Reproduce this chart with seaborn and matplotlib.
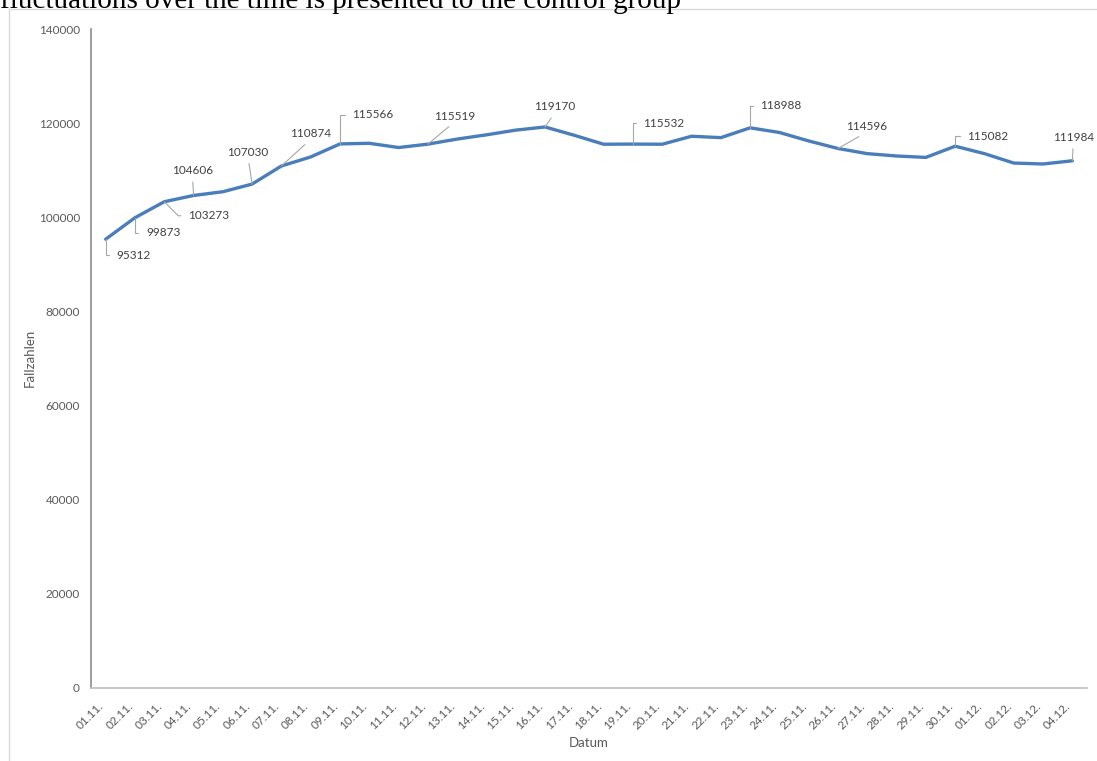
import matplotlib
matplotlib.use("Agg")
import matplotlib.pyplot as plt
import seaborn as sns
import pandas as pd
from matplotlib.patches import Rectangle

# ---------------- data ----------------
dates = ["01.11.", "02.11.", "03.11.", "04.11.", "05.11.", "06.11.", "07.11.", "08.11.",
         "09.11.", "10.11.", "11.11.", "12.11.", "13.11.", "14.11.", "15.11.", "16.11.",
         "17.11.", "18.11.", "19.11.", "20.11.", "21.11.", "22.11.", "23.11.", "24.11.",
         "25.11.", "26.11.", "27.11.", "28.11.", "29.11.", "30.11.", "01.12.", "02.12.",
         "03.12.", "04.12."]
cases = [95312, 99873, 103273, 104606, 105400, 107030, 110874, 112800,
         115566, 115700, 114800, 115519, 116600, 117500, 118500, 119170,
         117400, 115500, 115532, 115500, 117200, 116900, 118988, 118000,
         116200, 114596, 113500, 113000, 112700, 115082, 113500, 111500,
         111300, 111984]
labeled_idx = [0, 1, 2, 3, 5, 6, 8, 11, 15, 18, 22, 25, 29, 33]
y_ticks = [0, 20000, 40000, 60000, 80000, 100000, 120000, 140000]

# label placement (pixel offsets, leader style)
label_styles = [(11, -16, "bracket"), (11, -15, "bracket"), (24, -14, "diag"),
                (-1, 25, "line"), (-4, 32, "line"), (29, 32, "line"),
                (12, 29, "bracket"), (27, 28, "line"), (10, 20, "line"),
                (10.5, 21, "bracket"), (10, 22, "bracket"), (29, 22, "line"),
                (12, 10, "bracket"), (1, 23.5, "line")]

# ---------------- style ----------------
sns.set_theme(style="white")
plt.rcParams["font.family"] = ["Lato", "DejaVu Sans"]

W, H = 1097, 761
fig = plt.figure(figsize=(W / 100, H / 100), dpi=100)
fig.patch.set_facecolor("white")

# outer frame of chart area
fig.add_artist(Rectangle((9 / W, -0.05), 1.2, 1.05 - 9 / H, transform=fig.transFigure,
                         fill=False, edgecolor="#D9D9D9", linewidth=1.0))
# caption text, cut off at the top edge as in the source
fig.text(0.0, 1 - 8 / H, "fluctuations over the time is presented to the control group",
         family=["Liberation Serif", "DejaVu Serif"], fontsize=21, color="black",
         ha="left", va="baseline")

ax = fig.add_axes([91 / W, 1 - 687.5 / H, 996 / W, 658.5 / H])

df = pd.DataFrame({"pos": list(range(len(dates))), "Datum": dates, "Fallzahlen": cases})
sns.lineplot(data=df, x="pos", y="Fallzahlen", ax=ax, color="#4A7EBB", linewidth=2.4)

ax.set_xlim(-0.5, len(dates) - 0.5)
ax.set_ylim(0, 140000)
ax.set_yticks(y_ticks)
ax.set_yticklabels([str(v) for v in y_ticks])
ax.set_xticks(df["pos"])
ax.set_xticklabels(dates, rotation=45, ha="right")
ax.tick_params(axis="y", length=0, pad=8, labelsize=8.5, labelcolor="#595959")
ax.tick_params(axis="x", length=0, pad=9, labelsize=8.5, labelcolor="#595959")

for s in ["top", "right"]:
    ax.spines[s].set_visible(False)
ax.spines["left"].set_color("#8C8C8C")
ax.spines["left"].set_linewidth(1.2)
ax.spines["bottom"].set_color("#BFBFBF")
ax.spines["bottom"].set_linewidth(1.2)
ax.grid(False)

ax.set_xlabel("Datum", fontsize=9.5, color="#595959")
ax.set_ylabel("Fallzahlen", fontsize=9.5, color="#595959")
ax.xaxis.set_label_coords(0.5, -55.5 / 658.5)
ax.xaxis.label.set_va("center")
ax.yaxis.set_label_coords((30 - 91) / 996, 0.5)
ax.yaxis.label.set_va("center")

for idx, (dx, dy, kind) in zip(labeled_idx, label_styles):
    txt = str(cases[idx])
    common = dict(xy=(idx, cases[idx]), xytext=(dx, dy), textcoords="offset pixels",
                  fontsize=8.5, color="#404040", annotation_clip=False)
    if kind == "bracket":
        ax.annotate(txt, ha="left", va="center",
                    arrowprops=dict(arrowstyle="-", color="#A6A6A6", lw=0.8,
                                    shrinkA=3, shrinkB=0, relpos=(0, 0.5),
                                    connectionstyle="angle,angleA=0,angleB=90,rad=0"),
                    **common)
    elif kind == "diag":
        ax.annotate(txt, ha="left", va="center",
                    arrowprops=dict(arrowstyle="-", color="#A6A6A6", lw=0.8,
                                    shrinkA=3, shrinkB=0, relpos=(0, 0.5),
                                    connectionstyle="angle,angleA=0,angleB=-45,rad=0"),
                    **common)
    else:
        ax.annotate(txt, ha="center", va="center",
                    arrowprops=dict(arrowstyle="-", color="#A6A6A6", lw=0.8,
                                    shrinkA=2, shrinkB=0, relpos=(0.5, 0)),
                    **common)

fig.savefig("out.png", dpi=100)
